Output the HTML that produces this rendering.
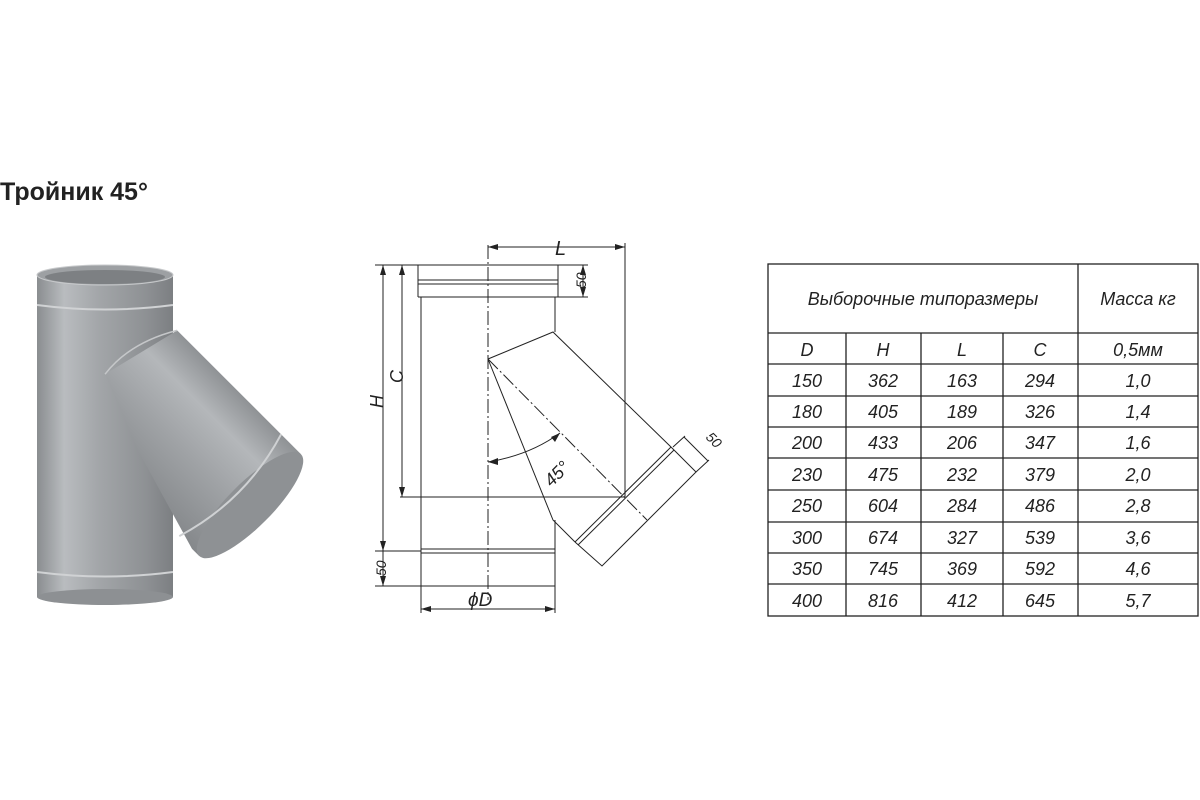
<!DOCTYPE html>
<html><head><meta charset="utf-8"><style>
body{margin:0;background:#fff;width:1200px;height:800px;overflow:hidden;position:relative;font-family:"Liberation Sans",sans-serif}
.t{position:absolute;left:0;top:178px;font-weight:bold;font-size:25px;color:#222}
svg{position:absolute;left:0;top:0}
</style></head><body>
<div class="t">Тройник 45°</div>
<svg width="1200" height="800" viewBox="0 0 1200 800">
<defs>
<linearGradient id="g1" x1="0" x2="1" y1="0" y2="0">
<stop offset="0" stop-color="#8a8d90"/><stop offset="0.2" stop-color="#b9bcbf"/><stop offset="0.45" stop-color="#a3a6a9"/><stop offset="0.8" stop-color="#8e9194"/><stop offset="1" stop-color="#7c7f82"/></linearGradient>
<linearGradient id="g2" x1="0" x2="0" y1="0" y2="1">
<stop offset="0" stop-color="#8f9295"/><stop offset="0.25" stop-color="#b4b7ba"/><stop offset="0.55" stop-color="#a0a3a6"/><stop offset="1" stop-color="#85888b"/></linearGradient>
</defs>
<!-- photo -->
<rect x="37" y="275" width="136" height="322" fill="url(#g1)"/>
<ellipse cx="105" cy="597" rx="68" ry="8" fill="#8d9093"/>
<ellipse cx="105" cy="275" rx="68" ry="10" fill="#9da0a3" stroke="#c8cacc"/>
<ellipse cx="105" cy="277" rx="60" ry="7" fill="#7d8083"/>
<path d="M37 305 Q105 314 173 305" stroke="#d0d2d4" stroke-width="2" fill="none"/>
<path d="M37 572 Q105 581 173 572" stroke="#d0d2d4" stroke-width="2" fill="none"/>
<g transform="translate(250 505) rotate(45)">
<polygon points="-175,-72 0,-72 0,72 -10,72 -120,40 -195,10" fill="url(#g2)"/>
<ellipse cx="0" cy="0" rx="22" ry="72" fill="#8e9194"/>
<path d="M-28 -72 Q-6 0 -28 72" stroke="#cfd1d3" stroke-width="2" fill="none"/>
<path d="M-175 -72 Q-200 -30 -195 10" stroke="#c5c7c9" stroke-width="1.5" fill="none"/>
</g>
<!-- drawing -->
<g stroke="#222" stroke-width="1" fill="none">
<path d="M418 265 H558 M418 265 V297 M558 265 V297 M418 297 H558"/>
<path d="M418 280 H558 M418 284 H558"/>
<path d="M421 297 V586 M555 297 V332 M555 520 V586 M421 586 H555"/>
<path d="M421 549 H555 M421 553 H555"/>
<path d="M488 359 L553 332 L671 447 M488 359 L553 520 L575 542"/>
<path d="M671 447 L575 542 M674 450 L578 545 M671 447 L696 472 L602 566 L575 542"/>
<path d="M488 245 V600" stroke-dasharray="14 3 2 3"/>
<path d="M488 359 L647 520" stroke-dasharray="14 3 2 3"/>
<path d="M400 497 H625 M625 243 V497"/>
<path d="M488 247 H625"/>
<path d="M375 265 H418 M558 265 H588 M558 297 H588 M375 586 H421 M375 551 H421"/>
<path d="M383 265 V586 M402 265 V497 M583 265 V297 M421 586 V613 M555 586 V613 M421 609 H555"/>
<path d="M673 447 L685 436 M696 472 L709 460 M684 437 L708 461"/>
<path d="M488 462 Q530 455 560 433"/>
</g>
<g fill="#222">
<path d="M488 247 l10 -3 v6z M625 247 l-10 -3 v6z M383 265 l-3 10 h6z M383 586 l-3 -10 h6z M383 551 l-3 -10 h6z M402 265 l-3 10 h6z M402 497 l-3 -10 h6z M583 265 l-3 10 h6z M583 297 l-3 -10 h6z M421 609 l10 -3 v6z M555 609 l-10 -3 v6z M488 462 l10 -4 v7z M560 433 l-5 9 -4 -5z"/>
</g>
<g font-family="Liberation Sans,sans-serif" font-style="italic" fill="#222">
<text x="555" y="255" font-size="20">L</text>
<text x="376" y="415" font-size="18" transform="rotate(-90 376 408)">H</text>
<text x="396" y="390" font-size="18" transform="rotate(-90 396 383)">C</text>
<text x="572" y="290" font-size="14" transform="rotate(-90 578 282)">50</text>
<text x="372" y="578" font-size="14" transform="rotate(-90 378 570)">50</text>
<text x="700" y="440" font-size="14" transform="rotate(45 705 445)">50</text>
<text x="468" y="606" font-size="19">ϕD</text>
<text x="540" y="480" font-size="18" transform="rotate(-45 555 470)">45°</text>
</g>
<!-- table -->
<g stroke="#222" stroke-width="1.3" fill="none">
<rect x="768" y="264" width="430" height="352"/>
<path d="M1078 264 V616 M846 333 V616 M921 333 V616 M1003 333 V616"/>
<path d="M768 333 H1198 M768 364 H1198 M768 396 H1198 M768 427 H1198 M768 458 H1198 M768 490 H1198 M768 522 H1198 M768 553 H1198 M768 584 H1198"/>
</g>
<g font-family="Liberation Sans,sans-serif" font-style="italic" fill="#222" font-size="18" text-anchor="middle">
<text x="923" y="305">Выборочные  типоразмеры</text>
<text x="1138" y="305">Масса  кг</text>
<text x="807" y="356">D</text><text x="883" y="356">H</text><text x="962" y="356">L</text><text x="1040" y="356">C</text><text x="1138" y="356">0,5мм</text>
<text x="807" y="387">150</text><text x="883" y="387">362</text><text x="962" y="387">163</text><text x="1040" y="387">294</text><text x="1138" y="387">1,0</text>
<text x="807" y="418">180</text><text x="883" y="418">405</text><text x="962" y="418">189</text><text x="1040" y="418">326</text><text x="1138" y="418">1,4</text>
<text x="807" y="449">200</text><text x="883" y="449">433</text><text x="962" y="449">206</text><text x="1040" y="449">347</text><text x="1138" y="449">1,6</text>
<text x="807" y="481">230</text><text x="883" y="481">475</text><text x="962" y="481">232</text><text x="1040" y="481">379</text><text x="1138" y="481">2,0</text>
<text x="807" y="512">250</text><text x="883" y="512">604</text><text x="962" y="512">284</text><text x="1040" y="512">486</text><text x="1138" y="512">2,8</text>
<text x="807" y="544">300</text><text x="883" y="544">674</text><text x="962" y="544">327</text><text x="1040" y="544">539</text><text x="1138" y="544">3,6</text>
<text x="807" y="575">350</text><text x="883" y="575">745</text><text x="962" y="575">369</text><text x="1040" y="575">592</text><text x="1138" y="575">4,6</text>
<text x="807" y="607">400</text><text x="883" y="607">816</text><text x="962" y="607">412</text><text x="1040" y="607">645</text><text x="1138" y="607">5,7</text>
</g>
</svg>
</body></html>
